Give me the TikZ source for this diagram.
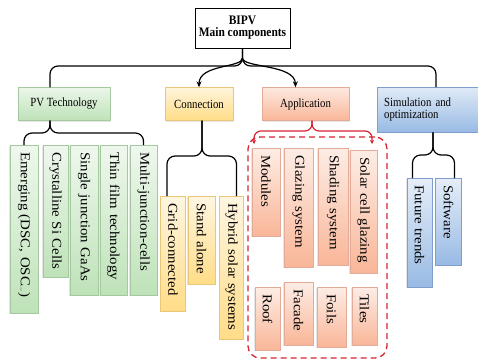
\documentclass[tikz,border=0pt]{standalone}
\usepackage{fontspec}
\setmainfont{Liberation Serif}
\font\leaffont="Liberation Serif:extend=1.1" at 13.5pt
\font\topicfont="Liberation Serif:extend=0.86" at 12.5pt
\font\headfont="Liberation Serif/B:extend=0.88" at 13pt
\usetikzlibrary{arrows.meta,shadows}

\definecolor{pv}{RGB}{190,226,184}
\definecolor{pvline}{RGB}{165,200,160}
\definecolor{con}{RGB}{255,220,135}
\definecolor{conline}{RGB}{232,200,120}
\definecolor{app}{RGB}{249,182,152}
\definecolor{appline}{RGB}{228,172,152}
\definecolor{sim}{RGB}{152,186,228}
\definecolor{simline}{RGB}{128,158,205}
\definecolor{dashred}{RGB}{214,36,50}

\begin{document}
\begin{tikzpicture}[x=1pt, y=-1pt,
    head/.style={draw=black, line width=1pt, fill=white, align=center,
      font=\headfont},
    topic/.style={draw=#1line, top color=#1!30!white, bottom color=#1,
      drop shadow={opacity=0.2, shadow xshift=1pt, shadow yshift=-1pt},
      font=\topicfont},
    leaf/.style n args={3}{draw=#1line, top color=#1!25!white, bottom color=#1,
      rotate=-90, anchor=west, minimum height=#2, text width=#3,
      inner xsep=7pt, inner ysep=0pt, align=left,
      drop shadow={opacity=0.2, shadow xshift=-1pt, shadow yshift=-1pt},
      font=\leaffont},
    brace/.style={draw=black, line width=1.2pt, rounded corners=8pt},
    redbrace/.style={draw=dashred, line width=1.2pt, rounded corners=7pt}]
  \useasboundingbox (0,0) rectangle (478,360);

  % root and main branches
  \node (bipv) [head, minimum width=95pt, minimum height=40pt] at (242.5,28) {BIPV\\Main components};
  \node (pvtech) [topic=pv, minimum width=92pt, minimum height=33pt] at (64,104) {PV Technology};
  \node (conn) [topic=con, minimum width=68pt, minimum height=33pt] at (199,104) {Connection};
  \node (appl) [topic=app, minimum width=87pt, minimum height=33pt] at (305.5,104) {Application};
  \node (sim) [topic=sim, anchor=north west, minimum width=110pt, minimum height=45pt,
    text width=96pt, inner xsep=6pt, align=left] at (377,87) {Simulation and\\optimization};

  % PV technology
  \node (emerg) [leaf={pv}{28pt}{154pt}] at (24,145) {Emerging (DSC, OSC{\fontsize{5}{6}\selectfont ,....})};
  \node (cryst) [leaf={pv}{25pt}{118pt}] at (55.5,145) {Crystalline Si Cells};
  \node (gaas) [leaf={pv}{28pt}{136pt}] at (84,145) {Single junction GaAs};
  \node (thin) [leaf={pv}{27pt}{136pt}] at (113.5,145) {Thin film technology};
  \node (multi) [leaf={pv}{27pt}{136pt}] at (143.5,145) {Multi-junction-cells};

  % connection
  \node (grid) [leaf={con}{25pt}{101pt}] at (173,196) {Grid-connected};
  \node (stand) [leaf={con}{27pt}{74pt}] at (201.5,196) {Stand alone};
  \node (hybrid) [leaf={con}{24pt}{129pt}] at (231.5,196) {Hybrid solar systems};

  % application
  \node (appbox) [draw=dashred, line width=1.3pt, dash pattern=on 6pt off 4pt,
    rounded corners=12pt, minimum width=139pt, minimum height=221pt] at (317.5,247.5) {};
  \node (modules) [leaf={app}{28pt}{74pt}] at (266,148) {Modules};
  \node (glazing) [leaf={app}{29pt}{105pt}] at (298.5,148) {Glazing system};
  \node (shading) [leaf={app}{30pt}{103pt}] at (333,148) {Shading system};
  \node (solarglz) [leaf={app}{27pt}{109pt}] at (363.5,150) {Solar cell glazing};
  \node (roof) [leaf={app}{25pt}{49pt}] at (267.5,287) {Roof};
  \node (facade) [leaf={app}{29pt}{49pt}] at (298.5,282) {Facade};
  \node (foils) [leaf={app}{29pt}{46pt}] at (331.5,287) {Foils};
  \node (tiles) [leaf={app}{25pt}{44pt}] at (364.5,287) {Tiles};

  % simulation
  \node (future) [leaf={sim}{25pt}{95pt}] at (419.5,178) {Future trends};
  \node (software) [leaf={sim}{26pt}{73pt}] at (448.5,178) {Software};

  % braces
  \coordinate (topjoin) at (242.5,66);
  \coordinate (topcusp) at (242.5,58);
  \coordinate (pvjoin) at (50,133);
  \coordinate (conjoin) at (202,156);
  \coordinate (appjoin) at (312,131);
  \coordinate (appleft) at (254,144);
  \coordinate (appright) at (372,144);
  \coordinate (simjoin) at (433,155);

  \draw[brace] (pvtech.north -| pvjoin) |- (topjoin) -- (bipv.south);
  \draw[brace] ([xshift=3pt]sim.north -| simjoin) |- (topjoin) -- (bipv.south);
  \draw[line width=1.2pt, -{Stealth[length=6pt,width=5pt]}] (topcusp) .. controls (242.5,68) and (199,64) .. (conn.north);
  \draw[line width=1.2pt, -{Stealth[length=6pt,width=5pt]}] (topcusp) .. controls (242.5,68) and (295,64) .. ([xshift=-10pt]appl.north);

  \draw[brace] (emerg.west) |- (pvjoin) -- (pvjoin |- pvtech.south);
  \draw[brace] (multi.west) |- (pvjoin) -- (pvjoin |- pvtech.south);
  \draw[brace] ([xshift=-6pt]grid.west) |- (conjoin) -- (conjoin |- conn.south);
  \draw[brace] ([xshift=5pt]hybrid.west) |- (conjoin) -- (conjoin |- conn.south);
  \draw[redbrace, -{Stealth[length=4pt,width=4pt]}] (appjoin |- appl.south) -- (appjoin) -| (appleft);
  \draw[redbrace, -{Stealth[length=4pt,width=4pt]}] (appjoin |- appl.south) -- (appjoin) -| (appright);
  \draw[brace] ([xshift=-7pt]future.west) |- (simjoin) -- (simjoin |- sim.south);
  \draw[brace] ([xshift=6pt]software.west) |- (simjoin) -- (simjoin |- sim.south);
\end{tikzpicture}
\end{document}
